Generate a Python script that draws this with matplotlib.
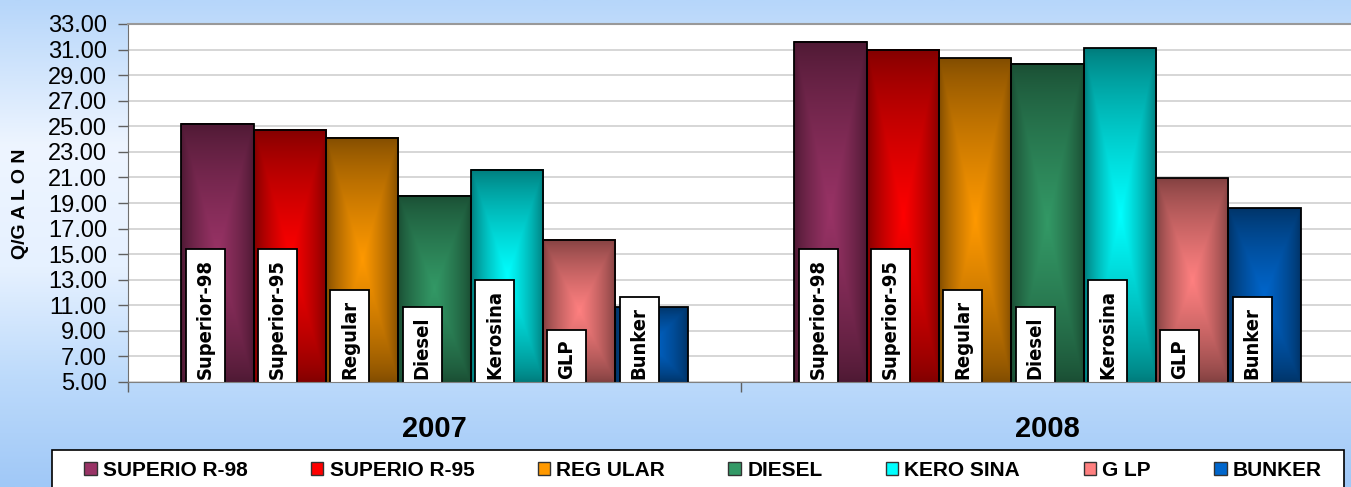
import numpy as np
import matplotlib
matplotlib.use("Agg")
import matplotlib.pyplot as plt
from matplotlib.patches import Patch, Rectangle
from matplotlib.colors import to_rgb

plt.rcParams["font.family"] = ["Liberation Sans", "DejaVu Sans"]

# ---------------------------------------------------------------------------
# Data (Q/galon)
# ---------------------------------------------------------------------------
years = ["2007", "2008"]
fuels = ["Superior-98", "Superior-95", "Regular", "Diesel", "Kerosina", "GLP", "Bunker"]
legend_names = ["SUPERIO R-98", "SUPERIO R-95", "REG ULAR", "DIESEL",
                "KERO SINA", "G LP", "BUNKER"]
price_2007 = [25.21, 24.74, 24.12, 19.56, 21.62, 16.13, 10.84]
price_2008 = [31.60, 31.00, 30.34, 29.90, 31.12, 20.94, 18.60]
y_ticks = [5, 7, 9, 11, 13, 15, 17, 19, 21, 23, 25, 27, 29, 31, 33]

# dark edge / bright centre of each bar's gradient
edge_cols = ["#4d1933", "#800000", "#804c00", "#1a4d33", "#007a7a", "#804040", "#003366"]
center_cols = ["#993366", "#ff0000", "#ff9900", "#339966", "#00ffff", "#ff8080", "#0066cc"]

W, H = 1351, 487
fig = plt.figure(figsize=(W / 100, H / 100), dpi=100)

# background gradient (light blue -> white -> blue)
bg = fig.add_axes([0, 0, 1, 1], zorder=-1)
stops_y = [0.0, 0.30, 0.55, 0.78, 1.0]
stops_c = [(182, 214, 250), (238, 245, 255), (230, 241, 255), (188, 218, 251), (160, 200, 247)]
yy = np.linspace(0, 1, 300)
grad = np.stack([np.interp(yy, stops_y, [c[k] for c in stops_c]) for k in range(3)], axis=-1) / 255
bg.imshow(grad[:, None, :], aspect="auto", extent=(0, 1, 0, 1), interpolation="bilinear")
bg.axis("off")

ax = fig.add_axes([128 / W, 1 - 382 / H, (1354 - 128) / W, 358 / H])
ax.set_facecolor("white")


def shade(edge, center, nx=60, ny=200):
    u = np.abs(np.linspace(-1, 1, nx))[None, :]
    v = np.abs(np.linspace(-1, 1, ny))[:, None]
    t = (1 - np.maximum(u, v)) ** 0.75
    e, c = np.array(to_rgb(edge)), np.array(to_rgb(center))
    return e + (c - e) * t[..., None]


x = np.arange(len(years))
w = 0.118
for i, fuel in enumerate(fuels):
    vals = [price_2007[i], price_2008[i]]
    xpos = x + (i - 3) * w
    bars = ax.bar(xpos, vals, width=w, facecolor="none", edgecolor="black",
                  linewidth=1.3, zorder=3)
    img = shade(edge_cols[i], center_cols[i])
    for rect, val in zip(bars, vals):
        x0 = rect.get_x()
        ax.imshow(img, extent=(x0, x0 + w, 5, val), aspect="auto",
                  interpolation="bilinear", zorder=2)
        # label box sits on the axis; its lower padding is cut off like the original
        lbl = ax.annotate(fuel, xy=(x0 + 0.33 * w, 5), xytext=(0, 2),
                          textcoords="offset points", rotation=90,
                          ha="center", va="bottom", fontsize=14.5,
                          fontweight="bold", family="DejaVu Sans",
                          fontstretch="condensed",
                          bbox=dict(boxstyle="square,pad=0.5", fc="white",
                                    ec="black", lw=1.3),
                          zorder=5)
        lbl.set_clip_path(ax.patch)

ax.set_xlim(-0.5, 1.5)
ax.set_ylim(5, 33)
ax.set_yticks(y_ticks)
ax.set_yticklabels([f"{v:.2f}" for v in y_ticks], fontsize=17)
ax.tick_params(axis="y", length=7.2, width=1, color="#606060", pad=8)
ax.grid(axis="y", color="#d0d0d0", linewidth=1.2, zorder=0)
ax.set_axisbelow(True)

ax.set_xticks(x)
ax.set_xticklabels([])
ax.set_xticks([-0.5, 0.5, 1.5], minor=True)
ax.tick_params(axis="x", which="major", length=0)
ax.tick_params(axis="x", which="minor", length=7.2, width=1, color="#606060")
for xi, yr in zip(x, years):
    ax.text(xi, -0.131, yr, transform=ax.get_xaxis_transform(), ha="center",
            va="center", fontsize=21, fontweight="bold")

ax.spines["right"].set_visible(False)
ax.spines["top"].set_color("#999999")
ax.spines["top"].set_linewidth(1.5)
ax.spines["left"].set_color("#707070")
ax.spines["bottom"].set_color("#808080")
ax.spines["bottom"].set_zorder(6)

fig.text(21 / W, 1 - 204 / H, "Q/G A L O N", rotation=90, ha="center",
         va="center", fontsize=14, fontweight="bold")

# legend box
fig.add_artist(Rectangle((52 / W, -0.05), (1344 - 52) / W, 0.05 + 1 - 450 / H,
                         transform=fig.transFigure, fc="white", ec="black",
                         lw=1.2, zorder=1))
handles = [Patch(facecolor=c, edgecolor="#333333", linewidth=1) for c in center_cols]
leg = fig.legend(handles, legend_names, loc="center left",
                 bbox_to_anchor=(84 / W, 1 - 470 / H, (1322 - 84) / W, 0),
                 mode="expand", ncol=7, frameon=False, borderpad=0,
                 borderaxespad=0, handlelength=0.6, handleheight=0.6,
                 handletextpad=0.3, prop=dict(size=15, weight="bold"))
leg.set_zorder(5)

fig.savefig("out.png", dpi=100)
